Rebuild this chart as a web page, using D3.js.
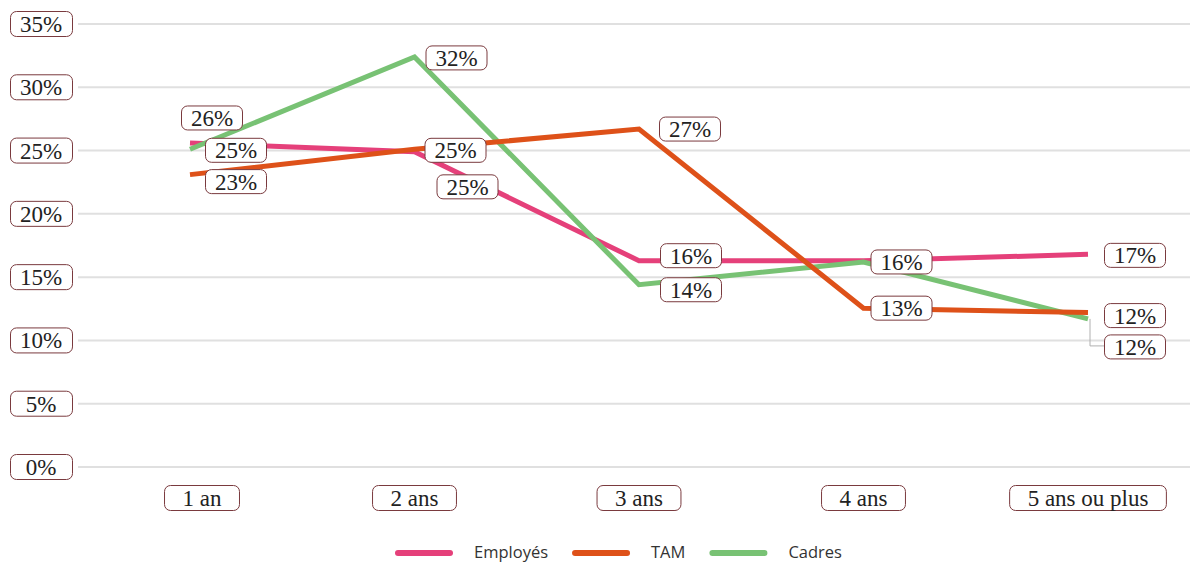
<!DOCTYPE html>
<html>
<head>
<meta charset="utf-8">
<script src="https://cdn.jsdelivr.net/npm/d3@7"></script>
<style>
  html, body { margin: 0; padding: 0; background: #fff; }
  svg { display: block; }
</style>
</head>
<body>
<svg id="chart" width="1190" height="563"></svg>
<script>
// ---- data ----
const categories = ["1 an", "2 ans", "3 ans", "4 ans", "5 ans ou plus"];
const seriesNames = ["Employés", "TAM", "Cadres"];
const employes = [25.6, 24.9, 16.3, 16.3, 16.8];
const tam      = [23.1, 25.1, 26.7, 12.55, 12.2];
const cadres   = [25.1, 32.4, 14.4, 16.2, 11.7];
const yTicks = [0, 5, 10, 15, 20, 25, 30, 35];
const yTickLabels = ["0%", "5%", "10%", "15%", "20%", "25%", "30%", "35%"];

// ---- presentation ----
const colors = { "Employés": "#e5407a", "TAM": "#de5119", "Cadres": "#78c274" };
const serif = "'Liberation Serif', 'DejaVu Serif', serif";
const sans = "'Open Sans', 'Noto Sans', sans-serif";
const boxStroke = "#7a3a3e";

// label placement offsets (dx = box left from point, dy = box centre from point)
const labelOffsets = {
  "Employés": [[-9, -25], [22, 35], [21, -5], null, [16, 1]],
  "TAM":      [[15, 7], [10, 1], [20, 0], [7, 0], [16, 3]],
  "Cadres":   [[15, 1], [11, 1], [21, 5], [7, 0], [16, 28]]
};
const tickDx = [12, 0, 0, 0, 0];

const series = [
  { name: "Employés", values: employes },
  { name: "TAM", values: tam },
  { name: "Cadres", values: cadres }
];

const svg = d3.select("#chart");
const x = d3.scalePoint().domain(categories).range([190, 1088]);
const y = d3.scaleLinear().domain([0, 35]).range([467, 24]);

// gridlines
svg.append("g").selectAll("line").data(yTicks).join("line")
  .attr("x1", 78).attr("x2", 1190)
  .attr("y1", d => y(d)).attr("y2", d => y(d))
  .attr("stroke", "#e0e0e0").attr("stroke-width", 2);

// y labels
const yl = svg.append("g").selectAll("g").data(yTicks).join("g")
  .attr("transform", d => `translate(0,${y(d)})`);
yl.append("rect").attr("x", 10.5).attr("y", -12.5).attr("width", 62).attr("height", 25)
  .attr("rx", 6).attr("fill", "#fff").attr("stroke", boxStroke).attr("stroke-width", 1);
yl.append("text").attr("x", 41).attr("y", 0).attr("dy", "0.35em")
  .attr("text-anchor", "middle").attr("font-family", serif).attr("font-size", 23)
  .attr("fill", "#222").text((d, i) => yTickLabels[i]);

// x labels
const xl = svg.append("g").selectAll("g").data(categories).join("g")
  .attr("transform", (d, i) => `translate(${x(d) + tickDx[i]},498)`);
xl.append("text").attr("text-anchor", "middle").attr("dy", "0.35em")
  .attr("font-family", serif).attr("font-size", 23).attr("fill", "#222")
  .text(d => d);
xl.each(function() {
  const g = d3.select(this);
  const w = g.select("text").node().getComputedTextLength() + 36;
  g.insert("rect", "text").attr("x", -w / 2).attr("y", -12.5).attr("width", w).attr("height", 25)
    .attr("rx", 6).attr("fill", "#fff").attr("stroke", boxStroke).attr("stroke-width", 1);
});

// lines
const line = d3.line().x((d, i) => x(categories[i])).y(d => y(d));
const drawOrder = ["Employés", "Cadres", "TAM"];
drawOrder.forEach(name => {
  const s = series.find(t => t.name === name);
  svg.append("path").datum(s.values)
    .attr("d", line).attr("fill", "none")
    .attr("stroke", colors[name]).attr("stroke-width", 5)
    .attr("stroke-linejoin", "miter");
});

// leader line for Cadres last label
{
  const i = 4, off = labelOffsets["Cadres"][i];
  const px = x(categories[i]) + 2, py = y(cadres[i]);
  svg.append("path")
    .attr("d", `M${px},${py}V${py + off[1] - 1}H${x(categories[i]) + off[0]}`)
    .attr("fill", "none").attr("stroke", "#b0b0b0").attr("stroke-width", 1);
}

// data labels
const labelG = svg.append("g");
series.forEach(s => {
  s.values.forEach((v, i) => {
    const off = labelOffsets[s.name][i];
    if (!off) return;
    const bx = x(categories[i]) + off[0];
    const cy = y(v) + off[1];
    const g = labelG.append("g").attr("transform", `translate(${bx},${cy})`);
    g.append("rect").attr("x", 0.5).attr("y", -12).attr("width", 61).attr("height", 24)
      .attr("rx", 6).attr("fill", "#fff").attr("stroke", boxStroke).attr("stroke-width", 1);
    g.append("text").attr("x", 31).attr("dy", "0.35em").attr("text-anchor", "middle")
      .attr("font-family", serif).attr("font-size", 23).attr("fill", "#222")
      .text(d3.format(".0f")(v) + "%");
  });
});

// legend
const legend = svg.append("g");
let lx = 395;
seriesNames.forEach(name => {
  legend.append("line").attr("x1", lx + 3).attr("x2", lx + 55).attr("y1", 553).attr("y2", 553)
    .attr("stroke", colors[name]).attr("stroke-width", 6).attr("stroke-linecap", "round");
  const t = legend.append("text").attr("x", lx + 79).attr("y", 558)
    .attr("font-family", sans).attr("font-size", 16.5).attr("fill", "#333").text(name);
  lx = lx + 79 + t.node().getComputedTextLength() + 24;
});
</script>
</body>
</html>
